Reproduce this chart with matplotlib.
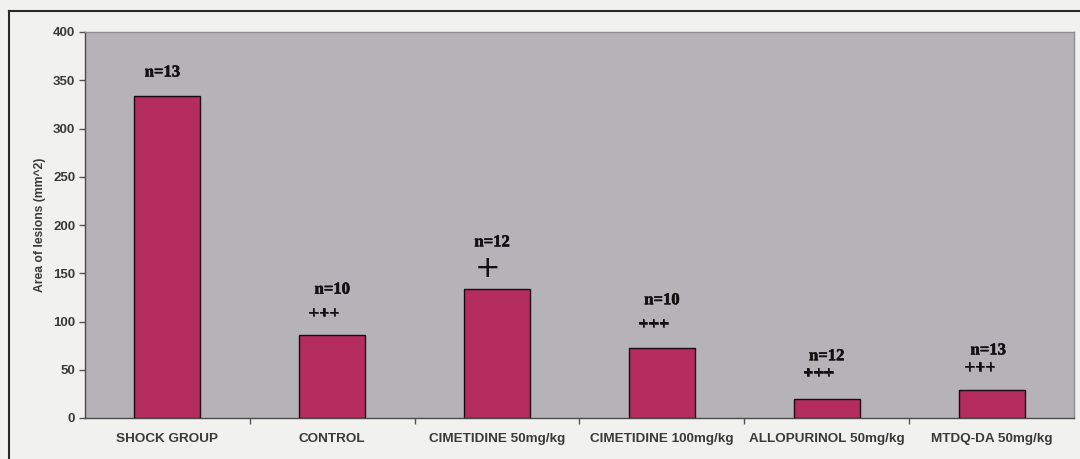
import matplotlib
matplotlib.use("Agg")
import matplotlib.pyplot as plt
import matplotlib.patheffects as pe
from matplotlib.lines import Line2D

# Groups and mean lesion area
groups = ["SHOCK GROUP", "CONTROL", "CIMETIDINE 50mg/kg", "CIMETIDINE 100mg/kg",
          "ALLOPURINOL 50mg/kg", "MTDQ-DA 50mg/kg"]
lesion_area = [333.5, 86, 134, 72.5, 19.5, 29]
n_labels = ["n = 13", "n = 10", "n = 12", "n = 10", "n = 12", "n = 13"]
sig_marks = ["", "+++", "+", "+++", "+++", "+++"]
y_ticks = [0, 50, 100, 150, 200, 250, 300, 350, 400]

fig = plt.figure(figsize=(10.8, 4.59), dpi=100, facecolor="#f1f1ef")
ax = fig.add_axes([85 / 1080, 1 - 418 / 459, 989 / 1080, 386 / 459])
ax.set_facecolor("#b5b3b7")

x = range(len(groups))
ax.bar(x, lesion_area, width=0.4, color="#b42d5e", edgecolor="#1a0a10", linewidth=1.0, zorder=3)

ax.set_xlim(-0.5, len(groups) - 0.5)
ax.set_ylim(0, 400)
ax.set_yticks(y_ticks)
ax.set_xticks(x)
ax.set_xticklabels(groups)
ax.set_xticks([i + 0.5 for i in range(len(groups) - 1)], minor=True)

for lab in ax.get_yticklabels() + ax.get_xticklabels():
    lab.set_fontfamily("Liberation Sans")
    lab.set_fontweight("bold")
    lab.set_color("#3a3a3a")
for lab in ax.get_yticklabels():
    lab.set_fontsize(9.5)
for lab in ax.get_xticklabels():
    lab.set_fontsize(9.7)

ax.tick_params(axis="y", direction="out", length=4, width=1, color="#555555", pad=3)
ax.tick_params(axis="x", which="major", length=0, pad=11)
ax.tick_params(axis="x", which="minor", direction="out", length=4, width=1, color="#555555")

ax.set_ylabel("Area of lesions (mm^2)", fontfamily="Liberation Sans", fontweight="bold",
              fontsize=8.7, color="#3a3a3a", labelpad=5)

for side in ["top", "right"]:
    ax.spines[side].set_color("#8e8c90")
    ax.spines[side].set_linewidth(1)
for side in ["left", "bottom"]:
    ax.spines[side].set_color("#4a4a4a")
    ax.spines[side].set_linewidth(1)

# Sample size and significance labels above bars
heavy = [pe.withStroke(linewidth=0.4, foreground="#111111")]
n_y = [358, 133, 182, 122, 64, 70]
n_dx = [-0.03, 0.0, -0.03, 0.0, 0.0, -0.02]
sig_y = [0, 108, 155, 97, 46, 52]
sig_dx = [0, -0.05, -0.06, -0.05, -0.05, -0.07]
for i in x:
    ax.text(i + n_dx[i], n_y[i], n_labels[i].replace(" ", ""), ha="center", va="center",
            fontfamily="Liberation Serif", fontweight="bold", fontsize=12, color="#111111",
            path_effects=heavy)
    if sig_marks[i] == "+":
        ax.text(i + sig_dx[i], sig_y[i], "+", ha="center", va="center",
                fontfamily="DejaVu Sans", fontsize=22, color="#111111")
    elif sig_marks[i]:
        ax.text(i + sig_dx[i], sig_y[i], sig_marks[i], ha="center", va="center",
                fontfamily="Liberation Serif", fontweight="bold", fontsize=13, color="#111111",
                path_effects=heavy)

# Outer frame lines
fig.add_artist(Line2D([9 / 1080, 1.0], [1 - 11 / 459, 1 - 11 / 459],
                      transform=fig.transFigure, color="#2a2a2a", linewidth=1.5))
fig.add_artist(Line2D([9 / 1080, 9 / 1080], [0, 1 - 11 / 459],
                      transform=fig.transFigure, color="#2a2a2a", linewidth=1.5))

fig.savefig("out.png", dpi=100, facecolor=fig.get_facecolor())
